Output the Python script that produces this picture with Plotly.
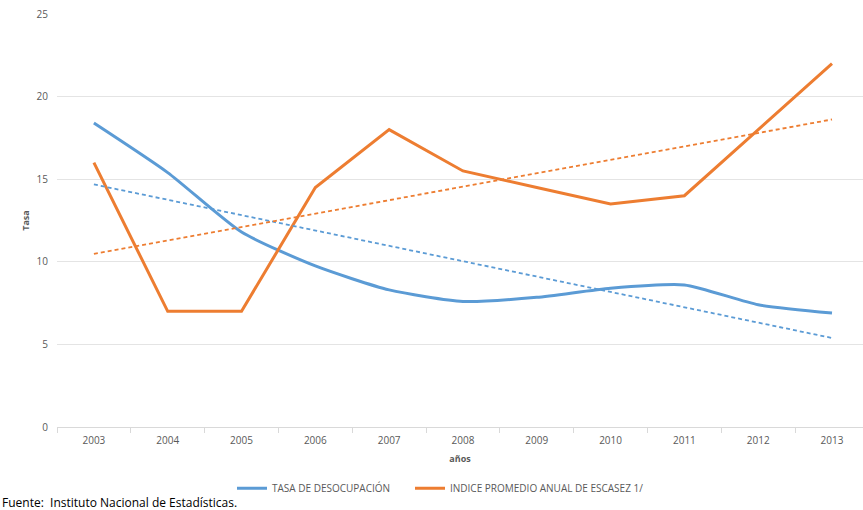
import numpy as np
import plotly.graph_objects as go

anios = ['2003', '2004', '2005', '2006', '2007', '2008', '2009', '2010', '2011', '2012', '2013']
tasa_desocupacion = [18.4, 15.4, 11.8, 9.75, 8.3, 7.6, 7.85, 8.4, 8.6, 7.4, 6.9]
indice_escasez = [16, 7, 7, 14.5, 18, 15.5, 14.5, 13.5, 14, 18, 22]

AZUL = '#5B9BD5'
NARANJA = '#ED7D31'

# lineas de tendencia (regresion lineal, como en Excel)
idx = np.arange(len(anios))
tend_azul = np.polyval(np.polyfit(idx, tasa_desocupacion, 1), idx)
tend_naranja = np.polyval(np.polyfit(idx, indice_escasez, 1), idx)

fig = go.Figure()
fig.add_trace(go.Scatter(x=anios, y=tasa_desocupacion, mode='lines', name='TASA DE DESOCUPACIÓN',
                         line=dict(color=AZUL, width=3, shape='spline', smoothing=0.6)))
fig.add_trace(go.Scatter(x=anios, y=indice_escasez, mode='lines', name='INDICE PROMEDIO ANUAL DE ESCASEZ 1/',
                         line=dict(color=NARANJA, width=3), legend='legend2'))
fig.add_trace(go.Scatter(x=anios, y=tend_azul, mode='lines', showlegend=False, hoverinfo='skip',
                         line=dict(color=AZUL, width=1.8, dash='4px,3px')))
fig.add_trace(go.Scatter(x=anios, y=tend_naranja, mode='lines', showlegend=False, hoverinfo='skip',
                         line=dict(color=NARANJA, width=1.8, dash='4px,3px')))

leyenda = dict(orientation='h', xanchor='left', y=-0.113, yanchor='top',
               font=dict(size=10, color='#595959'), itemwidth=30, bgcolor='rgba(0,0,0,0)')

fig.update_layout(
    width=863, height=510,
    margin=dict(l=57, r=0, t=14, b=83, autoexpand=False),
    plot_bgcolor='white', paper_bgcolor='white',
    font=dict(family='Open Sans, Liberation Sans, sans-serif', color='#595959', size=10),
    xaxis=dict(
        type='category', range=[-0.5, 10.42], automargin=False,
        tickson='boundaries', ticks='outside', ticklen=5, tickcolor='#D9D9D9',
        showline=True, linecolor='#D9D9D9', showgrid=False, ticklabelstandoff=4,
        title=dict(text='<b>años</b>', font=dict(size=9, color='#595959'), standoff=9),
    ),
    yaxis=dict(
        range=[0, 25], dtick=5, showgrid=True, gridcolor='#E4E4E4', zeroline=False,
        ticks='', ticklabelstandoff=8, automargin=False,
        title=dict(text='<b>Tasa</b>', font=dict(size=9, color='#595959'), standoff=5),
    ),
    legend=dict(leyenda, x=(232 - 57) / 806),
    legend2=dict(leyenda, x=(410 - 57) / 806),
    showlegend=True,
)

fig.add_annotation(text='Fuente:  Instituto Nacional de Estadísticas.', xref='paper', yref='paper',
                   x=-57 / 806, y=(427 - 503) / 413, xanchor='left', yanchor='middle', showarrow=False,
                   font=dict(size=12, color='#000000', family='Open Sans, Liberation Sans, sans-serif'))

# quitar el margen por defecto del body para que la figura quede en (0, 0)
fig.write_html('out.html', config={'displayModeBar': False},
               post_script="document.body.style.margin='0';")
